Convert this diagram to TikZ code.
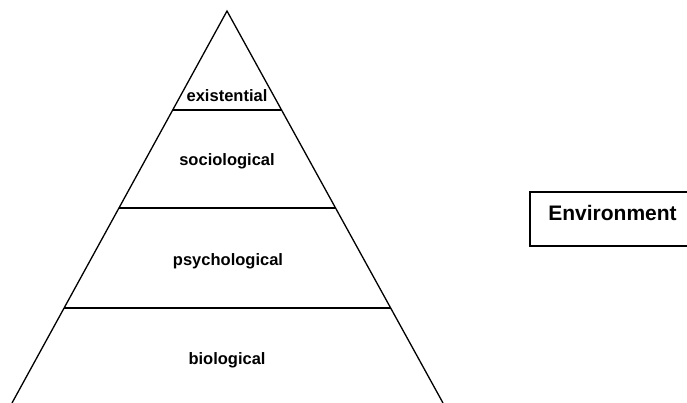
\documentclass[tikz,border=0pt]{standalone}
\usepackage{fontspec}
\setmainfont{Liberation Sans}
\usepackage{tikz}

\begin{document}
\begin{tikzpicture}[x=1pt,y=-1pt,
	layer/.style={anchor=base, inner sep=0pt, font=\fontsize{16.5}{18}\selectfont\bfseries},
	edge/.style={black, line width=1.3pt}]
	\useasboundingbox (0,0) rectangle (687,403);

	% pyramid
	\draw [edge, line join=miter] (12,403) -- (227,11) -- (443,403);
	% levels
	\draw [edge] (172.7,110) -- (281.6,110);
	\draw [edge] (119.0,208) -- (335.5,208);
	\draw [edge] (64.1,308) -- (390.7,308);

	% label
	\node [layer] (existential) at (227,101.5) {existential};
	\node [layer] (sociological) at (227,166) {sociological};
	\node [layer] (psychological) at (228,265) {psychological};
	\node [layer] (biological) at (227,364) {biological};

	% environment
	\draw [edge] (687,192) -| (530,246) -- (687,246);
	\node [anchor=base, inner sep=0pt, font=\fontsize{21}{24}\selectfont\bfseries] (environment) at (612.5,221) {Environment};
\end{tikzpicture}
\end{document}
